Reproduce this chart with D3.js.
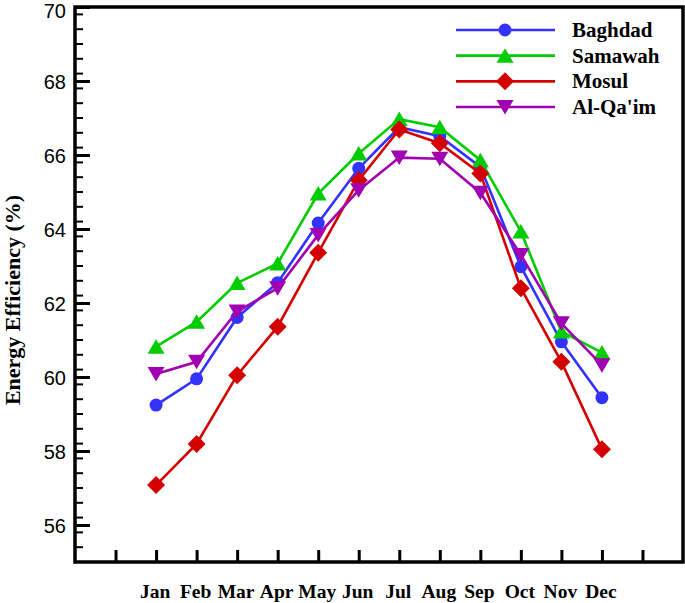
<!DOCTYPE html>
<html>
<head>
<meta charset="utf-8">
<script src="https://cdn.jsdelivr.net/npm/d3@7"></script>
<style>
  html, body { margin: 0; padding: 0; background: #fff; }
  svg { display: block; }
</style>
</head>
<body>
<svg id="chart" width="685" height="603"></svg>
<script>
const months = ["Jan","Feb","Mar","Apr","May","Jun","Jul","Aug","Sep","Oct","Nov","Dec"];
const baghdad = [59.24, 59.95, 61.61, 62.55, 64.16, 65.64, 66.75, 66.51, 65.68, 62.98, 60.95, 59.44];
const samawah = [60.82, 61.49, 62.54, 63.07, 64.96, 66.04, 66.97, 66.75, 65.86, 63.93, 61.23, 60.66];
const mosul   = [57.08, 58.19, 60.05, 61.36, 63.36, 65.32, 66.69, 66.32, 65.50, 62.40, 60.41, 58.05];
const alqaim  = [60.08, 60.41, 61.77, 62.40, 63.84, 65.05, 65.93, 65.90, 64.98, 63.30, 61.45, 60.32];
const seriesNames = ["Baghdad", "Samawah", "Mosul", "Al-Qa'im"];
const yTicks = [56, 58, 60, 62, 64, 66, 68, 70];

const colors = ["#3333ff", "#00cc00", "#d40000", "#a000b0"];
const markers = ["circle", "triUp", "diamond", "triDown"];
const seriesData = [baghdad, samawah, mosul, alqaim];

const svg = d3.select("#chart");
const L = 75, R = 683, T = 7, B = 562;

const x = d3.scaleLinear().domain([0, 15]).range([L, R]);
const y = d3.scaleLinear().domain([55, 70]).range([B, T]);
const xi = i => x(i + 2);

function markerPath(type) {
  switch (type) {
    case "circle": return d3.symbol(d3.symbolCircle, Math.PI * 6.5 * 6.5)();
    case "diamond": return "M0,-9L9,0L0,9L-9,0Z";
    case "triUp": return "M0,-7.5L8.5,7L-8.5,7Z";
    case "triDown": return "M0,7.5L8.5,-7L-8.5,-7Z";
  }
}

// Y axis (left) with major + minor ticks pointing inward
const minorTicks = d3.range(55, 70.001, 0.4).filter(v => Math.abs(v / 2 - Math.round(v / 2)) > 0.01);
svg.append("g").selectAll("line.minor").data(minorTicks).join("line")
  .attr("x1", L).attr("x2", L + 8)
  .attr("y1", d => y(d)).attr("y2", d => y(d))
  .attr("stroke", "#000").attr("stroke-width", 2);

const yAxis = d3.axisRight(y).tickValues(yTicks).tickSize(15).tickFormat(() => "");
const yg = svg.append("g").attr("transform", `translate(${L},0)`).call(yAxis);
yg.select(".domain").remove();
yg.selectAll("line").attr("stroke", "#000").attr("stroke-width", 3);

svg.append("g").selectAll("text").data(yTicks).join("text")
  .attr("x", L - 9).attr("y", d => Math.max(y(d) + 1, 11))
  .attr("text-anchor", "end").attr("dominant-baseline", "central")
  .attr("font-family", "Liberation Sans, Arial, sans-serif")
  .attr("font-size", 20)
  .text(d => d);

// X axis ticks pointing up
const xTickVals = d3.range(1, 15);
const xAxis = d3.axisTop(x).tickValues(xTickVals).tickSize(12).tickFormat(() => "");
const xg = svg.append("g").attr("transform", `translate(0,${B})`).call(xAxis);
xg.select(".domain").remove();
xg.selectAll("line").attr("stroke", "#000").attr("stroke-width", 3);

svg.append("g").selectAll("text").data(months).join("text")
  .attr("x", (d, i) => xi(i) - 1).attr("y", 598)
  .attr("text-anchor", "middle")
  .attr("font-family", "Liberation Serif, Times New Roman, serif")
  .attr("font-weight", "bold").attr("font-size", 19.5)
  .text(d => d);

// Frame
svg.append("rect").attr("x", L).attr("y", T).attr("width", R - L).attr("height", B - T)
  .attr("fill", "none").attr("stroke", "#000").attr("stroke-width", 3.5);

// Y title
svg.append("text")
  .attr("transform", `translate(20,300) rotate(-90)`)
  .attr("text-anchor", "middle")
  .attr("font-family", "Liberation Serif, Times New Roman, serif")
  .attr("font-weight", "bold").attr("font-size", 22)
  .text("Energy Efficiency (%)");

// Series
const line = d3.line().x((d, i) => xi(i)).y(d => y(d));
seriesData.forEach((data, s) => {
  const g = svg.append("g");
  g.append("path").datum(data).attr("d", line)
    .attr("fill", "none").attr("stroke", colors[s]).attr("stroke-width", 2.6);
  g.selectAll("path.m").data(data).join("path").attr("class", "m")
    .attr("transform", (d, i) => `translate(${xi(i)},${y(d)})`)
    .attr("d", markerPath(markers[s]))
    .attr("fill", colors[s]);
});

// Legend
const legY = d3.scaleLinear().domain([0, 3]).range([30, 107]);
const lg = svg.append("g");
seriesNames.forEach((name, s) => {
  const yy = legY(s);
  lg.append("line").attr("x1", 456).attr("x2", 555).attr("y1", yy).attr("y2", yy)
    .attr("stroke", colors[s]).attr("stroke-width", 2.6);
  lg.append("path").attr("transform", `translate(505,${yy})`)
    .attr("d", markerPath(markers[s])).attr("fill", colors[s]);
  lg.append("text").attr("x", 572).attr("y", yy).attr("dominant-baseline", "central")
    .attr("font-family", "Liberation Serif, Times New Roman, serif")
    .attr("font-weight", "bold").attr("font-size", 21)
    .text(name);
});
</script>
</body>
</html>
